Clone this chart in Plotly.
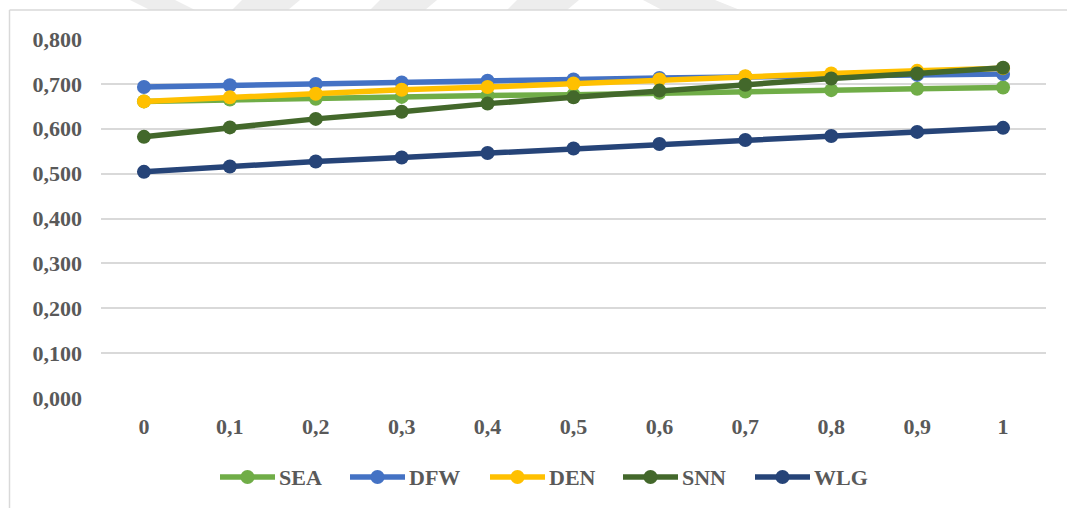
import plotly.graph_objects as go

# Category labels along the horizontal axis
x_labels = ["0", "0,1", "0,2", "0,3", "0,4", "0,5", "0,6", "0,7", "0,8", "0,9", "1"]

# Series values
sea = [0.661, 0.665, 0.667, 0.671, 0.674, 0.676, 0.680, 0.683, 0.686, 0.689, 0.692]
dfw = [0.693, 0.697, 0.700, 0.703, 0.707, 0.710, 0.713, 0.716, 0.718, 0.720, 0.722]
den = [0.661, 0.670, 0.678, 0.687, 0.693, 0.701, 0.710, 0.717, 0.723, 0.729, 0.735]
snn = [0.582, 0.603, 0.622, 0.638, 0.656, 0.670, 0.685, 0.698, 0.712, 0.723, 0.736]
wlg = [0.504, 0.516, 0.527, 0.536, 0.546, 0.556, 0.566, 0.575, 0.584, 0.593, 0.602]

y_ticks = [0.0, 0.1, 0.2, 0.3, 0.4, 0.5, 0.6, 0.7, 0.8]
y_ticktext = ["0,000", "0,100", "0,200", "0,300", "0,400", "0,500", "0,600", "0,700", "0,800"]

series_names = ["SEA", "DFW", "DEN", "SNN", "WLG"]
series_values = [sea, dfw, den, snn, wlg]
series_colors = ["#70AD47", "#4472C4", "#FFC000", "#43682B", "#264478"]

FONT = "Liberation Serif, Times New Roman, serif"
TEXT_COLOR = "#595959"
GRID = "#D9D9D9"
LINE_W = 5.5
MARKER = 14
FS = 22

fig = go.Figure()
for name, vals, color in zip(series_names, series_values, series_colors):
    fig.add_trace(go.Scatter(
        x=x_labels, y=vals, name=name, mode="lines+markers",
        line=dict(color=color, width=LINE_W),
        marker=dict(color=color, size=MARKER),
        showlegend=False,
    ))

# Plot-area geometry in pixels (for frame and legend placement)
W, H = 1067, 508
ML, MR, MT, MB = 101, 21, 39, 110
pw, ph = W - ML - MR, H - MT - MB

def px_x(x):
    return (x - ML) / pw

def px_y(y):
    return (H - MB - y) / ph

shapes = []
annotations = []

# faint watermark stripes along the top edge
for pts in [
    [(130, 0), (175, 0), (195, 10), (150, 10)],
    [(242, 0), (300, 0), (288, 10), (232, 10)],
    [(380, 0), (437, 0), (425, 10), (370, 10)],
    [(517, 0), (579, 0), (567, 10), (507, 10)],
    [(643, 0), (715, 0), (740, 10), (662, 10)],
]:
    path = "M " + " L ".join(f"{px_x(a)},{px_y(b)}" for a, b in pts) + " Z"
    shapes.append(dict(type="path", xref="paper", yref="paper", path=path,
                       fillcolor="#EDEDED", line=dict(width=0), layer="below"))

# chart frame (left and top edges)
shapes.append(dict(type="line", xref="paper", yref="paper",
                   x0=px_x(9.5), x1=px_x(9.5), y0=px_y(10), y1=px_y(H),
                   line=dict(color=GRID, width=1.5)))
shapes.append(dict(type="line", xref="paper", yref="paper",
                   x0=px_x(9.5), x1=px_x(W), y0=px_y(10), y1=px_y(10),
                   line=dict(color=GRID, width=1.5)))

# legend row below the axis: line sample with a centred marker, then the name
legend_y = 477
legend_starts = [220, 350, 490, 623, 755]
sample_len = 55
for name, color, x0 in zip(series_names, series_colors, legend_starts):
    shapes.append(dict(type="line", xref="paper", yref="paper",
                       x0=px_x(x0), x1=px_x(x0 + sample_len),
                       y0=px_y(legend_y), y1=px_y(legend_y),
                       line=dict(color=color, width=LINE_W)))
    cx = x0 + sample_len / 2
    r = MARKER / 2
    shapes.append(dict(type="circle", xref="paper", yref="paper",
                       x0=px_x(cx - r), x1=px_x(cx + r),
                       y0=px_y(legend_y + r), y1=px_y(legend_y - r),
                       fillcolor=color, line=dict(width=0)))
    annotations.append(dict(xref="paper", yref="paper",
                            x=px_x(x0 + sample_len + 2), y=px_y(legend_y),
                            xanchor="left", yanchor="middle", showarrow=False,
                            text=f"<b>{name}</b>",
                            font=dict(family=FONT, size=FS, color=TEXT_COLOR)))

fig.update_layout(
    width=W, height=H,
    margin=dict(l=ML, r=MR, t=MT, b=MB),
    paper_bgcolor="white", plot_bgcolor="white",
    font=dict(family=FONT, color=TEXT_COLOR, size=FS),
    shapes=shapes,
    annotations=annotations,
    showlegend=False,
    xaxis=dict(
        type="category", range=[-0.5, len(x_labels) - 0.5],
        showgrid=False, zeroline=False, showline=False,
        tickfont=dict(family=FONT, size=FS, color=TEXT_COLOR, weight="bold"),
        ticklabelstandoff=13, ticks="",
    ),
    yaxis=dict(
        range=[0, 0.8], tickvals=y_ticks, ticktext=y_ticktext,
        showgrid=True, gridcolor=GRID, gridwidth=1.5,
        zeroline=False, showline=False,
        tickfont=dict(family=FONT, size=FS, color=TEXT_COLOR, weight="bold"),
        ticklabelstandoff=18, ticks="",
    ),
    hovermode=False,
)

fig.write_html("out.html")
